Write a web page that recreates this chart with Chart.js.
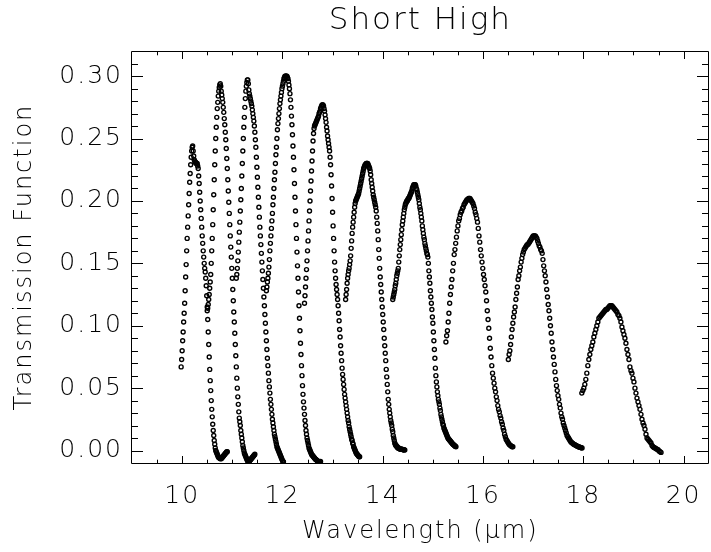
<!DOCTYPE html>
<html><head><meta charset="utf-8">
<style>
html,body{margin:0;padding:0;background:#fff;overflow:hidden;}
#wrap{width:711px;height:552px;overflow:hidden;position:relative;}
#inner{width:720px;height:552px;}
canvas{display:block;}
</style>
<script src="https://cdn.jsdelivr.net/npm/chart.js@4.4.1/dist/chart.umd.min.js"></script>
</head><body>
<div id="wrap"><div id="inner"><canvas id="c" width="720" height="552"></canvas></div></div>
<script>
const chartTitle = "Short High";
const xAxisTitle = "Wavelength (\u03bcm)";
const yAxisTitle = "Transmission Function";

const xMajorTicks = [10, 12, 14, 16, 18, 20];
const xMinorTicks = [9.5, 10.5, 11, 11.5, 12.5, 13, 13.5, 14.5, 15, 15.5, 16.5, 17, 17.5, 18.5, 19, 19.5, 20];
const yMajorTicks = [0, 0.05, 0.10, 0.15, 0.20, 0.25, 0.30];
const yMinorTicks = [0.01,0.02,0.03,0.04,0.06,0.07,0.08,0.09,0.11,0.12,0.13,0.14,0.16,0.17,0.18,0.19,0.21,0.22,0.23,0.24,0.26,0.27,0.28,0.29,0.31];

// each order: [wavelength (um), transmission]
const order1 = [[9.98,.067],[9.99,.073],[10.00,.080],[10.01,.088],[10.02,.095],[10.03,.103],[10.04,.110],[10.05,.118],[10.06,.128],[10.07,.139],[10.08,.149],[10.09,.160],[10.10,.170],[10.11,.179],[10.12,.188],[10.13,.197],[10.14,.206],[10.15,.215],[10.16,.222],[10.17,.229],[10.18,.235],[10.19,.240],[10.20,.243],[10.21,.244],[10.22,.240],[10.23,.236],[10.24,.233],[10.25,.232],[10.26,.231],[10.27,.231],[10.28,.230],[10.29,.230],[10.30,.230],[10.31,.228],[10.32,.226],[10.33,.220],[10.34,.214],[10.35,.207],[10.36,.200],[10.37,.193],[10.38,.186],[10.39,.179],[10.40,.172],[10.41,.166],[10.42,.160],[10.43,.155],[10.44,.150],[10.45,.146],[10.46,.143],[10.47,.138],[10.48,.132],[10.49,.124],[10.50,.115],[10.51,.105],[10.52,.095],[10.53,.085],[10.54,.075],[10.55,.065],[10.56,.056],[10.57,.048],[10.58,.040],[10.59,.033],[10.60,.027],[10.61,.021],[10.62,.016],[10.63,.012],[10.64,.008],[10.65,.005],[10.66,.002],[10.67,.000],[10.68,-.001],[10.69,-.002],[10.70,-.003],[10.71,-.004],[10.72,-.005],[10.73,-.0055],[10.74,-.006],[10.75,-.006],[10.76,-.0065],[10.77,-.0065],[10.78,-.0065],[10.79,-.006],[10.80,-.0055],[10.81,-.005],[10.82,-.0045],[10.83,-.004],[10.84,-.0035],[10.85,-.003],[10.86,-.0025],[10.87,-.002],[10.88,-.0015],[10.89,-.001],[10.90,-.001]];

const order2 = [[10.50,.112],[10.51,.114],[10.52,.117],[10.53,.121],[10.54,.125],[10.55,.130],[10.56,.135],[10.57,.141],[10.58,.150],[10.59,.160],[10.60,.170],[10.61,.181],[10.62,.193],[10.63,.205],[10.64,.217],[10.65,.229],[10.66,.240],[10.67,.250],[10.68,.259],[10.69,.267],[10.70,.274],[10.71,.279],[10.72,.284],[10.73,.288],[10.74,.291],[10.75,.293],[10.76,.294],[10.77,.292],[10.78,.288],[10.79,.285],[10.80,.282],[10.81,.279],[10.82,.275],[10.83,.271],[10.84,.266],[10.85,.261],[10.86,.255],[10.87,.249],[10.88,.242],[10.89,.234],[10.90,.226],[10.91,.217],[10.92,.208],[10.93,.199],[10.94,.190],[10.95,.181],[10.96,.172],[10.97,.163],[10.98,.155],[10.99,.146],[11.00,.138],[11.01,.129],[11.02,.120],[11.03,.111],[11.04,.103],[11.05,.094],[11.06,.085],[11.07,.076],[11.08,.067],[11.09,.058],[11.10,.050],[11.11,.043],[11.12,.037],[11.13,.031],[11.14,.026],[11.15,.023],[11.16,.020],[11.17,.016],[11.18,.013],[11.19,.010],[11.20,.007],[11.21,.004],[11.22,.002],[11.23,.000],[11.24,-.002],[11.25,-.003],[11.26,-.004],[11.27,-.005],[11.28,-.006],[11.29,-.007],[11.30,-.008],[11.31,-.0085],[11.32,-.009],[11.33,-.009],[11.34,-.0085],[11.35,-.008],[11.36,-.0075],[11.37,-.007],[11.38,-.0065],[11.39,-.006],[11.40,-.0055],[11.41,-.005],[11.42,-.0045],[11.43,-.004],[11.44,-.0035],[11.45,-.003]];

const order3 = [[11.08,.138],[11.09,.141],[11.10,.146],[11.11,.152],[11.12,.159],[11.13,.167],[11.14,.175],[11.15,.183],[11.16,.192],[11.17,.201],[11.18,.210],[11.19,.220],[11.20,.230],[11.21,.240],[11.22,.250],[11.23,.259],[11.24,.267],[11.25,.275],[11.26,.282],[11.27,.288],[11.28,.292],[11.29,.295],[11.30,.297],[11.31,.297],[11.32,.294],[11.33,.289],[11.34,.286],[11.35,.284],[11.36,.282],[11.37,.280],[11.38,.278],[11.39,.276],[11.40,.273],[11.41,.270],[11.42,.267],[11.43,.264],[11.44,.260],[11.45,.255],[11.46,.249],[11.47,.243],[11.48,.235],[11.49,.227],[11.50,.219],[11.51,.211],[11.52,.203],[11.53,.195],[11.54,.187],[11.55,.179],[11.56,.172],[11.57,.165],[11.58,.158],[11.59,.151],[11.60,.144],[11.61,.137],[11.62,.130],[11.63,.123],[11.64,.116],[11.65,.109],[11.66,.102],[11.67,.095],[11.68,.088],[11.69,.081],[11.70,.074],[11.71,.068],[11.72,.062],[11.73,.056],[11.74,.051],[11.75,.046],[11.76,.041],[11.77,.037],[11.78,.033],[11.79,.029],[11.80,.025],[11.81,.022],[11.82,.019],[11.83,.016],[11.84,.013],[11.85,.011],[11.86,.009],[11.87,.007],[11.88,.005],[11.89,.003],[11.90,.002],[11.91,.001],[11.92,.000],[11.93,-.001],[11.94,-.002],[11.95,-.003],[11.96,-.004],[11.97,-.005],[11.98,-.006],[11.99,-.007],[12.00,-.008],[12.01,-.009],[12.02,-.009]];

const order4 = [[11.68,.128],[11.69,.131],[11.70,.135],[11.71,.138],[11.72,.142],[11.73,.147],[11.74,.153],[11.75,.160],[11.76,.166],[11.77,.172],[11.78,.178],[11.79,.184],[11.80,.190],[11.81,.197],[11.82,.203],[11.83,.210],[11.84,.217],[11.85,.223],[11.86,.230],[11.87,.237],[11.88,.243],[11.89,.250],[11.90,.257],[11.91,.262],[11.92,.266],[11.93,.270],[11.94,.274],[11.95,.278],[11.96,.281],[11.97,.284],[11.98,.287],[11.99,.290],[12.00,.292],[12.01,.294],[12.02,.296],[12.03,.298],[12.04,.299],[12.05,.300],[12.06,.300],[12.07,.300],[12.08,.300],[12.09,.300],[12.10,.299],[12.11,.298],[12.12,.296],[12.13,.293],[12.14,.290],[12.15,.286],[12.16,.281],[12.17,.275],[12.18,.268],[12.19,.261],[12.20,.253],[12.21,.244],[12.22,.235],[12.23,.225],[12.24,.214],[12.25,.203],[12.26,.192],[12.27,.181],[12.28,.170],[12.29,.159],[12.30,.148],[12.31,.138],[12.32,.127],[12.33,.116],[12.34,.106],[12.35,.096],[12.36,.086],[12.37,.077],[12.38,.068],[12.39,.060],[12.40,.052],[12.41,.045],[12.42,.039],[12.43,.034],[12.44,.029],[12.45,.024],[12.46,.020],[12.47,.016],[12.48,.013],[12.49,.010],[12.50,.008],[12.51,.006],[12.52,.004],[12.53,.002],[12.54,.001],[12.55,.000],[12.56,-.001],[12.57,-.002],[12.58,-.003],[12.59,-.0035],[12.60,-.004],[12.61,-.0045],[12.62,-.005],[12.63,-.0055],[12.64,-.006],[12.65,-.0065],[12.66,-.007],[12.67,-.0073],[12.68,-.0076],[12.69,-.008],[12.70,-.0083],[12.71,-.0086],[12.72,-.0088],[12.73,-.009],[12.74,-.009],[12.75,-.009],[12.76,-.0088]];

const order5 = [[12.44,.118],[12.45,.124],[12.46,.131],[12.47,.138],[12.48,.145],[12.49,.152],[12.50,.160],[12.51,.168],[12.52,.176],[12.53,.184],[12.54,.192],[12.55,.200],[12.56,.208],[12.57,.216],[12.58,.224],[12.59,.232],[12.60,.240],[12.61,.248],[12.62,.254],[12.63,.258],[12.64,.260],[12.65,.261],[12.66,.262],[12.67,.263],[12.68,.264],[12.69,.265],[12.70,.266],[12.71,.267],[12.72,.268],[12.73,.270],[12.74,.271],[12.75,.272],[12.76,.274],[12.77,.275],[12.78,.276],[12.79,.277],[12.80,.277],[12.81,.277],[12.82,.276],[12.83,.274],[12.84,.272],[12.85,.269],[12.86,.266],[12.87,.263],[12.88,.259],[12.89,.256],[12.90,.252],[12.91,.249],[12.92,.246],[12.93,.243],[12.94,.240],[12.95,.235],[12.96,.229],[12.97,.221],[12.98,.212],[12.99,.202],[13.00,.191],[13.01,.180],[13.02,.170],[13.03,.160],[13.04,.151],[13.05,.144],[13.06,.138],[13.07,.133],[13.08,.129],[13.09,.125],[13.10,.121],[13.11,.116],[13.12,.110],[13.13,.104],[13.14,.097],[13.15,.091],[13.16,.084],[13.17,.078],[13.18,.072],[13.19,.066],[13.20,.061],[13.21,.057],[13.22,.053],[13.23,.049],[13.24,.045],[13.25,.042],[13.26,.039],[13.27,.036],[13.28,.033],[13.29,.030],[13.30,.027],[13.31,.024],[13.32,.022],[13.33,.019],[13.34,.017],[13.35,.015],[13.36,.013],[13.37,.011],[13.38,.009],[13.39,.008],[13.40,.006],[13.41,.005],[13.42,.003],[13.43,.002],[13.44,.001],[13.45,.000],[13.46,-.001],[13.47,-.002],[13.48,-.0025],[13.49,-.003],[13.50,-.0035],[13.51,-.004],[13.52,-.0045],[13.53,-.005],[13.54,-.005]];

const order6 = [[13.26,.121],[13.27,.125],[13.28,.129],[13.29,.134],[13.30,.138],[13.31,.141],[13.32,.144],[13.33,.146],[13.34,.149],[13.35,.152],[13.36,.156],[13.37,.162],[13.38,.168],[13.39,.174],[13.40,.179],[13.41,.183],[13.42,.187],[13.43,.191],[13.44,.195],[13.45,.198],[13.46,.200],[13.47,.201],[13.48,.202],[13.49,.203],[13.50,.204],[13.51,.205],[13.52,.206],[13.53,.208],[13.54,.210],[13.55,.212],[13.56,.214],[13.57,.216],[13.58,.218],[13.59,.220],[13.60,.222],[13.61,.224],[13.62,.226],[13.63,.227],[13.64,.228],[13.65,.229],[13.66,.229],[13.67,.230],[13.68,.230],[13.69,.230],[13.70,.230],[13.71,.229],[13.72,.228],[13.73,.227],[13.74,.226],[13.75,.224],[13.76,.221],[13.77,.217],[13.78,.214],[13.79,.211],[13.80,.208],[13.81,.205],[13.82,.203],[13.83,.201],[13.84,.199],[13.85,.197],[13.86,.195],[13.87,.192],[13.88,.187],[13.89,.182],[13.90,.176],[13.91,.169],[13.92,.161],[13.93,.154],[13.94,.146],[13.95,.139],[13.96,.133],[13.97,.127],[13.98,.121],[13.99,.115],[14.00,.109],[14.01,.103],[14.02,.097],[14.03,.090],[14.04,.084],[14.05,.078],[14.06,.072],[14.07,.065],[14.08,.059],[14.09,.053],[14.10,.047],[14.11,.041],[14.12,.037],[14.13,.033],[14.14,.030],[14.15,.027],[14.16,.024],[14.17,.022],[14.18,.020],[14.19,.017],[14.20,.015],[14.21,.012],[14.22,.010],[14.23,.008],[14.24,.006],[14.25,.005],[14.26,.004],[14.27,.004],[14.28,.003],[14.29,.003],[14.30,.002],[14.31,.002],[14.32,.002],[14.33,.0015],[14.34,.0015],[14.35,.001],[14.36,.001],[14.37,.001],[14.38,.001],[14.39,.0008],[14.40,.0008],[14.41,.0006],[14.42,.0006],[14.43,.0005],[14.44,.0005]];

const order7 = [[14.20,.121],[14.21,.123],[14.22,.125],[14.23,.127],[14.24,.129],[14.25,.132],[14.26,.134],[14.27,.137],[14.28,.140],[14.29,.142],[14.30,.144],[14.31,.146],[14.32,.151],[14.33,.156],[14.34,.161],[14.35,.165],[14.36,.169],[14.37,.173],[14.38,.177],[14.39,.181],[14.40,.184],[14.41,.187],[14.42,.190],[14.43,.193],[14.44,.195],[14.45,.197],[14.46,.198],[14.47,.199],[14.48,.200],[14.49,.200],[14.50,.201],[14.51,.202],[14.52,.202],[14.53,.203],[14.54,.204],[14.55,.205],[14.56,.206],[14.57,.207],[14.58,.208],[14.59,.210],[14.60,.211],[14.61,.212],[14.62,.213],[14.63,.213],[14.64,.213],[14.65,.213],[14.66,.212],[14.67,.210],[14.68,.209],[14.69,.207],[14.70,.205],[14.71,.203],[14.72,.201],[14.73,.198],[14.74,.195],[14.75,.193],[14.76,.190],[14.77,.187],[14.78,.184],[14.79,.180],[14.80,.177],[14.81,.174],[14.82,.171],[14.83,.169],[14.84,.166],[14.85,.164],[14.86,.162],[14.87,.160],[14.88,.158],[14.89,.157],[14.90,.155],[14.91,.150],[14.92,.144],[14.93,.139],[14.94,.134],[14.95,.128],[14.96,.123],[14.97,.118],[14.98,.113],[14.99,.107],[15.00,.102],[15.01,.095],[15.02,.088],[15.03,.081],[15.04,.074],[15.05,.066],[15.06,.060],[15.07,.055],[15.08,.051],[15.09,.047],[15.10,.044],[15.11,.041],[15.12,.039],[15.13,.037],[15.14,.034],[15.15,.032],[15.16,.029],[15.17,.027],[15.18,.025],[15.19,.023],[15.20,.021],[15.21,.020],[15.22,.018],[15.23,.017],[15.24,.016],[15.25,.015],[15.26,.014],[15.27,.013],[15.28,.012],[15.29,.011],[15.30,.010],[15.31,.0095],[15.32,.009],[15.33,.0085],[15.34,.008],[15.35,.0075],[15.36,.007],[15.37,.0065],[15.38,.006],[15.39,.0055],[15.40,.005],[15.41,.0047],[15.42,.0044],[15.43,.004],[15.44,.0037],[15.45,.0033],[15.46,.003]];

const order8 = [[15.260,.087],[15.275,.092],[15.290,.096],[15.305,.103],[15.320,.110],[15.335,.118],[15.350,.125],[15.365,.131],[15.380,.137],[15.395,.144],[15.410,.150],[15.425,.157],[15.440,.161],[15.455,.166],[15.470,.171],[15.485,.176],[15.500,.180],[15.515,.184],[15.530,.186],[15.545,.189],[15.560,.191],[15.575,.192],[15.590,.194],[15.605,.195],[15.620,.197],[15.635,.198],[15.650,.199],[15.665,.200],[15.680,.201],[15.695,.201],[15.710,.202],[15.725,.202],[15.740,.202],[15.755,.201],[15.770,.200],[15.785,.199],[15.800,.198],[15.815,.196],[15.830,.194],[15.845,.191],[15.860,.189],[15.875,.186],[15.890,.183],[15.905,.178],[15.920,.172],[15.935,.167],[15.950,.161],[15.965,.156],[15.980,.151],[15.995,.146],[16.010,.141],[16.025,.137],[16.040,.132],[16.055,.127],[16.070,.120],[16.085,.112],[16.100,.105],[16.115,.098],[16.130,.090],[16.145,.082],[16.160,.075],[16.175,.068],[16.190,.062],[16.205,.058],[16.220,.054],[16.235,.050],[16.250,.047],[16.265,.043],[16.280,.040],[16.295,.036],[16.310,.033],[16.325,.031],[16.340,.028],[16.355,.026],[16.370,.023],[16.385,.021],[16.400,.018],[16.415,.016],[16.430,.013],[16.445,.011],[16.460,.009],[16.475,.008],[16.490,.007],[16.505,.006],[16.520,.005],[16.535,.0045],[16.550,.004],[16.565,.0035],[16.580,.003],[16.595,.003]];

const order9 = [[16.505,.073],[16.520,.077],[16.535,.080],[16.550,.085],[16.565,.091],[16.580,.097],[16.595,.102],[16.610,.107],[16.625,.111],[16.640,.115],[16.655,.121],[16.670,.126],[16.685,.131],[16.700,.137],[16.715,.140],[16.730,.144],[16.745,.147],[16.760,.151],[16.775,.154],[16.790,.157],[16.805,.159],[16.820,.161],[16.835,.162],[16.850,.163],[16.865,.164],[16.880,.165],[16.895,.165],[16.910,.166],[16.925,.167],[16.940,.168],[16.955,.169],[16.970,.170],[16.985,.171],[17.000,.172],[17.015,.172],[17.030,.172],[17.045,.172],[17.060,.171],[17.075,.170],[17.090,.168],[17.105,.166],[17.120,.164],[17.135,.163],[17.150,.161],[17.165,.160],[17.180,.158],[17.195,.153],[17.210,.148],[17.225,.144],[17.240,.140],[17.255,.135],[17.270,.129],[17.285,.123],[17.300,.117],[17.315,.112],[17.330,.106],[17.345,.100],[17.360,.094],[17.375,.087],[17.390,.081],[17.405,.075],[17.420,.069],[17.435,.063],[17.450,.057],[17.465,.052],[17.480,.048],[17.495,.044],[17.510,.041],[17.525,.037],[17.540,.034],[17.555,.030],[17.570,.027],[17.585,.025],[17.600,.022],[17.615,.020],[17.630,.018],[17.645,.016],[17.660,.014],[17.675,.012],[17.690,.011],[17.705,.010],[17.720,.009],[17.735,.008],[17.750,.007],[17.765,.0065],[17.780,.006],[17.795,.0055],[17.810,.005],[17.825,.0047],[17.840,.0044],[17.855,.004],[17.870,.0037],[17.885,.0034],[17.900,.003],[17.915,.0028],[17.930,.0026],[17.945,.0024],[17.960,.0022],[17.975,.002]];

const order10 = [[17.97,.046],[17.99,.048],[18.01,.050],[18.03,.053],[18.05,.057],[18.07,.062],[18.09,.068],[18.11,.073],[18.13,.077],[18.15,.081],[18.17,.084],[18.19,.087],[18.21,.091],[18.23,.094],[18.25,.097],[18.27,.100],[18.29,.103],[18.31,.106],[18.33,.107],[18.35,.108],[18.37,.109],[18.39,.110],[18.41,.111],[18.43,.112],[18.45,.113],[18.47,.113],[18.49,.114],[18.51,.115],[18.53,.116],[18.55,.116],[18.57,.116],[18.59,.115],[18.61,.114],[18.63,.113],[18.65,.112],[18.67,.111],[18.69,.109],[18.71,.108],[18.73,.106],[18.75,.103],[18.77,.099],[18.79,.096],[18.81,.093],[18.83,.090],[18.85,.086],[18.87,.081],[18.89,.077],[18.91,.073],[18.93,.067],[18.95,.064],[18.97,.062],[18.99,.058],[19.01,.055],[19.03,.050],[19.05,.046],[19.07,.042],[19.09,.039],[19.11,.036],[19.13,.033],[19.15,.029],[19.17,.025],[19.19,.022],[19.21,.020],[19.23,.017],[19.25,.013],[19.27,.010],[19.29,.009],[19.31,.008],[19.33,.007],[19.35,.006],[19.37,.004],[19.39,.003],[19.41,.0025],[19.43,.002],[19.45,.0015],[19.47,.001],[19.49,.0006],[19.51,-.0003],[19.53,-.001],[19.55,-.0015]];

const orders = [order1, order2, order3, order4, order5, order6, order7, order8, order9, order10];

const FAMILY = "'DejaVu Sans', 'Liberation Sans', sans-serif";
const WEIGHT = 200;

const spacingPlugin = {
  id: 'spacing',
  beforeLayout(chart) { chart.ctx.letterSpacing = '2px'; },
  beforeDraw(chart) { chart.ctx.letterSpacing = '2px'; }
};

const framePlugin = {
  id: 'frame',
  afterDraw(chart) {
    const {ctx, chartArea: a, scales: {x, y}} = chart;
    ctx.save();
    ctx.strokeStyle = '#000';
    ctx.lineWidth = 1;
    const L = Math.round(a.left) - 0.5, R = Math.round(a.right) - 0.5;
    const T = Math.round(a.top) + 0.5, B = Math.round(a.bottom) + 0.5;
    ctx.beginPath();
    ctx.rect(L, T, R - L, B - T);
    const xt = (vals, len) => {
      vals.forEach(v => {
        const px = Math.round(x.getPixelForValue(v)) + 0.5;
        ctx.moveTo(px, B); ctx.lineTo(px, B - len);
        ctx.moveTo(px, T); ctx.lineTo(px, T + len);
      });
    };
    const yt = (vals, len) => {
      vals.forEach(v => {
        const py = Math.round(y.getPixelForValue(v)) + 0.5;
        ctx.moveTo(L, py); ctx.lineTo(L + len, py);
        ctx.moveTo(R, py); ctx.lineTo(R - len, py);
      });
    };
    xt(xMajorTicks, 7.5); xt(xMinorTicks, 3.8);
    yt(yMajorTicks, 11.5); yt(yMinorTicks, 6.5);
    ctx.stroke();
    ctx.restore();
  }
};

new Chart(document.getElementById('c'), {
  type: 'scatter',
  data: {
    datasets: orders.map(o => ({
      data: o.map(p => ({x: p[0], y: p[1]})),
      showLine: false,
      pointStyle: 'circle',
      pointRadius: 2.0,
      pointBorderWidth: 1.4,
      borderColor: '#000',
      backgroundColor: 'rgba(0,0,0,0)'
    }))
  },
  options: {
    responsive: false,
    animation: false,
    events: [],
    layout: {padding: {left: 0, right: 3.8, top: 0, bottom: 0}},
    plugins: {
      legend: {display: false},
      tooltip: {enabled: false},
      title: {
        display: true, text: chartTitle, fullSize: false, color: '#000',
        font: {family: FAMILY, size: 31, weight: WEIGHT},
        padding: {top: 2, bottom: 12}
      }
    },
    scales: {
      x: {
        type: 'linear', position: 'bottom', min: 9, max: 20.5,
        afterFit(s) { s.height = 89; },
        afterBuildTicks(s) { s.ticks = xMajorTicks.map(v => ({value: v})); },
        ticks: {callback: v => String(v), color: '#000', font: {family: FAMILY, size: 25, weight: WEIGHT}, padding: 18, maxRotation: 0, autoSkip: false},
        grid: {display: false, drawTicks: false},
        border: {display: false},
        title: {display: true, text: xAxisTitle, color: '#000', font: {family: FAMILY, size: 24, weight: WEIGHT}, padding: {top: 0, bottom: 6}}
      },
      y: {
        type: 'linear', position: 'left', min: -0.01, max: 0.32,
        afterFit(s) { s.width = 132; },
        afterBuildTicks(s) { s.ticks = yMajorTicks.map(v => ({value: v})); },
        ticks: {callback: v => Number(v).toFixed(2), color: '#000', font: {family: FAMILY, size: 25, weight: WEIGHT}, padding: 9, autoSkip: false},
        grid: {display: false, drawTicks: false},
        border: {display: false},
        title: {display: true, text: yAxisTitle, color: '#000', font: {family: FAMILY, size: 24, weight: WEIGHT}, padding: {top: 10.6, bottom: 0}}
      }
    }
  },
  plugins: [spacingPlugin, framePlugin]
});
</script>
</body></html>
